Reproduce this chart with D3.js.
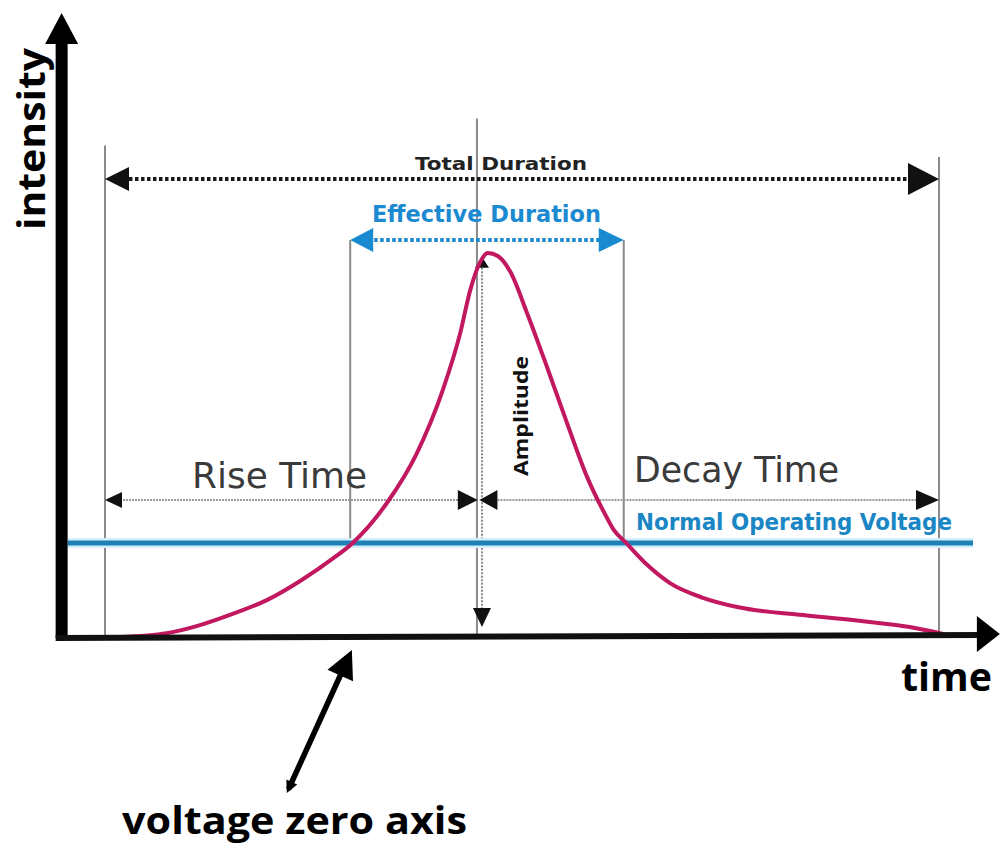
<!DOCTYPE html>
<html lang="en">
<head>
<meta charset="UTF-8">
<title>Pulse parameters</title>
<script src="https://d3js.org/d3.v7.min.js"></script>
<style>
  body { margin: 0; background: #fff; }
  svg { display: block; }
  .hand { font-family: "DejaVu Sans", sans-serif; }
  .bold { font-family: "Open Sans", sans-serif; font-weight: 700; }
</style>
</head>
<body>
<svg id="chart" width="1001" height="844"></svg>
<script>
// pulse shape (time: 0 = start of total duration, 100 = end;
// intensity: 0 = zero axis, 100 = peak)
const curveTime = [1.8, 7.4, 11.4, 15.3, 19.4, 23.4, 27.3, 29.7, 33.8, 37.4, 40.5, 42.6, 43.8, 45.0, 45.9,
                   47.1, 48.6, 50.6, 53.0, 55.4, 57.8, 60.0, 61.0, 62.4, 65.0, 67.7, 71.7, 75.8, 83.7, 91.7, 96.5, 100.5];
const curveIntensity = [0, 1.0, 3.1, 6.0, 9.6, 14.6, 20.4, 24.5, 34.9, 47.9, 64.3, 79.2, 90.4, 97.7, 100,
                        99.2, 95.1, 84.4, 70.3, 55.7, 41.7, 31.8, 27.9, 24.7, 18.8, 14.1, 10.2, 7.8, 5.7, 3.9, 2.6, 0.8];

// duration arrows
const spanNames = ["Total Duration", "Effective Duration", "Rise Time", "Decay Time"];
const spanFrom = [0, 29.4, 0, 44.9];
const spanTo = [100, 62.2, 44.7, 100];
const spanLevel = [119.3, 103.4, 35.7, 35.7];

// thin vertical guide lines
const guideTime = [0, 29.4, 44.6, 62.2, 100];
const guideTop = [128, 103.4, 135, 103.4, 125];
const guideBottom = [0, 24.5, 0, 24.5, 0];

const normalVoltage = 24.5;
const amplitudeTime = 45.2;
const amplitudeRange = [98, 2.6];
const axisTime = [-5.2, 107.3];
const axisTop = 162.5;

const svg = d3.select("#chart");
const x = d3.scaleLinear().domain([0, 100]).range([105, 939]);
const y = d3.scaleLinear().domain([0, 100]).range([637, 253]);

// arrow head: tip at (tx,ty), pointing along angle
function head(g, tx, ty, ang, len, half, fill) {
    const dx = Math.cos(ang), dy = Math.sin(ang);
    const bx = tx - len * dx, by = ty - len * dy;
    const pts = [[tx, ty], [bx - half * dy, by + half * dx], [bx + half * dy, by - half * dx]];
    g.append("polygon").attr("points", pts.map(p => p.join(",")).join(" ")).attr("fill", fill);
}
const LEFT = Math.PI, RIGHT = 0, UP = -Math.PI / 2, DOWN = Math.PI / 2;

const g = svg.append("g");

// guides
g.selectAll(".guide")
    .data(guideTime)
    .enter().append("line")
    .attr("class", "guide")
    .attr("x1", d => x(d)).attr("x2", d => x(d))
    .attr("y1", (d, i) => y(guideTop[i]))
    .attr("y2", (d, i) => y(guideBottom[i]))
    .attr("stroke", "#8a8a8a")
    .attr("stroke-width", 2);

// amplitude arrow
g.append("line")
    .attr("x1", x(amplitudeTime)).attr("x2", x(amplitudeTime))
    .attr("y1", y(amplitudeRange[0])).attr("y2", y(amplitudeRange[1]) - 10)
    .attr("stroke", "#8a8a8a").attr("stroke-width", 2).attr("stroke-dasharray", "2 1.5");
head(g, x(amplitudeTime), y(amplitudeRange[0]) - 4, UP, 11, 7, "#111");
head(g, x(amplitudeTime), y(amplitudeRange[1]), DOWN, 19, 9, "#111");

// duration spans
const spanStyle = [
    { color: "#1a1a1a", width: 4, dash: "3.5 2.5", len: [24, 31], half: [12, 16] },
    { color: "#1a8ad0", width: 4, dash: "3.5 2.5", len: [23, 25], half: [12, 12] },
    { color: "#9a9a9a", width: 2, dash: "2 1", len: [17, 20], half: [8, 10] },
    { color: "#9a9a9a", width: 2, dash: "2 1", len: [18, 23], half: [10, 10] }
];
spanNames.forEach((name, i) => {
    const s = spanStyle[i];
    const headColor = i === 1 ? "#1a8ad0" : "#111";
    g.append("line")
        .attr("x1", x(spanFrom[i]) + 6).attr("x2", x(spanTo[i]) - 6)
        .attr("y1", y(spanLevel[i])).attr("y2", y(spanLevel[i]))
        .attr("stroke", s.color).attr("stroke-width", s.width)
        .attr("stroke-dasharray", s.dash);
    head(g, x(spanFrom[i]), y(spanLevel[i]), LEFT, s.len[0], s.half[0], headColor);
    head(g, x(spanTo[i]), y(spanLevel[i]), RIGHT, s.len[1], s.half[1], headColor);
});

// normal operating voltage
g.append("line")
    .attr("x1", x(axisTime[0]) + 6).attr("x2", 973)
    .attr("y1", y(normalVoltage)).attr("y2", y(normalVoltage))
    .attr("stroke", "#d3f0fa").attr("stroke-width", 10);
g.append("line")
    .attr("x1", x(axisTime[0]) + 6).attr("x2", 973)
    .attr("y1", y(normalVoltage)).attr("y2", y(normalVoltage))
    .attr("stroke", "#1f80b8").attr("stroke-width", 5);

// pulse curve
const pulse = curveTime.map((t, i) => [t, curveIntensity[i]]);
g.append("path")
    .datum(pulse)
    .attr("fill", "none")
    .attr("stroke", "#c2185f")
    .attr("stroke-width", 4)
    .attr("d", d3.line().x(d => x(d[0])).y(d => y(d[1])).curve(d3.curveMonotoneX));

// axes
g.append("line")
    .attr("x1", x(axisTime[0])).attr("x2", x(axisTime[0]))
    .attr("y1", y(0) + 1).attr("y2", y(axisTop) + 28)
    .attr("stroke", "#000").attr("stroke-width", 12);
head(g, x(axisTime[0]), y(axisTop), UP, 31, 16.5, "#000");
g.append("line")
    .attr("x1", x(axisTime[0]) - 6).attr("x2", x(axisTime[1]) - 18)
    .attr("y1", y(0) + 1).attr("y2", y(0) - 2)
    .attr("stroke", "#111").attr("stroke-width", 6);
head(g, x(axisTime[1]), y(0) - 3, RIGHT, 23, 18, "#000");

// zero axis pointer
const zTip = [x(29.6), y(-3.4)], zTail = [x(21.8), y(-40.6)];
const zAng = Math.atan2(zTip[1] - zTail[1], zTip[0] - zTail[0]);
g.append("line")
    .attr("x1", zTail[0] + 4 * Math.cos(zAng)).attr("y1", zTail[1] + 4 * Math.sin(zAng))
    .attr("x2", zTip[0] - 20 * Math.cos(zAng)).attr("y2", zTip[1] - 20 * Math.sin(zAng))
    .attr("stroke", "#000").attr("stroke-width", 5.5);
head(g, zTip[0], zTip[1], zAng, 28, 14, "#000");
head(g, zTail[0], zTail[1], zAng + Math.PI, 12, 6, "#000");

// labels
const t = svg.append("g");
t.append("text").attr("class", "hand")
    .attr("x", 415).attr("y", y(spanLevel[0]) - 9)
    .attr("font-size", 18).attr("font-weight", "bold").attr("fill", "#222")
    .attr("textLength", 172).attr("lengthAdjust", "spacingAndGlyphs")
    .text(spanNames[0]);
t.append("text").attr("class", "hand")
    .attr("x", 372).attr("y", y(spanLevel[1]) - 18)
    .attr("font-size", 23).attr("font-weight", "bold").attr("fill", "#1c8ad0")
    .attr("textLength", 229).attr("lengthAdjust", "spacingAndGlyphs")
    .text(spanNames[1]);
t.append("text").attr("class", "hand")
    .attr("x", 192).attr("y", y(spanLevel[2]) - 12)
    .attr("font-size", 36).attr("fill", "#3a3a3a")
    .attr("textLength", 175).attr("lengthAdjust", "spacingAndGlyphs")
    .text(spanNames[2]);
t.append("text").attr("class", "hand")
    .attr("x", 634).attr("y", y(spanLevel[3]) - 18)
    .attr("font-size", 36).attr("fill", "#3a3a3a")
    .attr("textLength", 205).attr("lengthAdjust", "spacingAndGlyphs")
    .text(spanNames[3]);
t.append("text").attr("class", "hand")
    .attr("x", 636).attr("y", y(normalVoltage) - 13)
    .attr("font-size", 23).attr("font-weight", "bold").attr("fill", "#1a86c4")
    .attr("textLength", 316).attr("lengthAdjust", "spacingAndGlyphs")
    .text("Normal Operating Voltage");
t.append("text").attr("class", "bold")
    .attr("transform", `translate(528,476) rotate(-90)`)
    .attr("font-size", 19).attr("fill", "#111")
    .attr("textLength", 120).attr("lengthAdjust", "spacingAndGlyphs")
    .text("Amplitude");
t.append("text").attr("class", "bold")
    .attr("transform", `translate(45,230) rotate(-90)`)
    .attr("font-size", 38).attr("fill", "#000")
    .attr("textLength", 182).attr("lengthAdjust", "spacingAndGlyphs")
    .text("intensity");
t.append("text").attr("class", "bold")
    .attr("x", 901).attr("y", 691)
    .attr("font-size", 40).attr("fill", "#000")
    .attr("textLength", 91).attr("lengthAdjust", "spacingAndGlyphs")
    .text("time");
t.append("text").attr("class", "bold")
    .attr("x", 122).attr("y", 834)
    .attr("font-size", 38).attr("fill", "#000")
    .attr("textLength", 345).attr("lengthAdjust", "spacingAndGlyphs")
    .text("voltage zero axis");
</script>
</body>
</html>
